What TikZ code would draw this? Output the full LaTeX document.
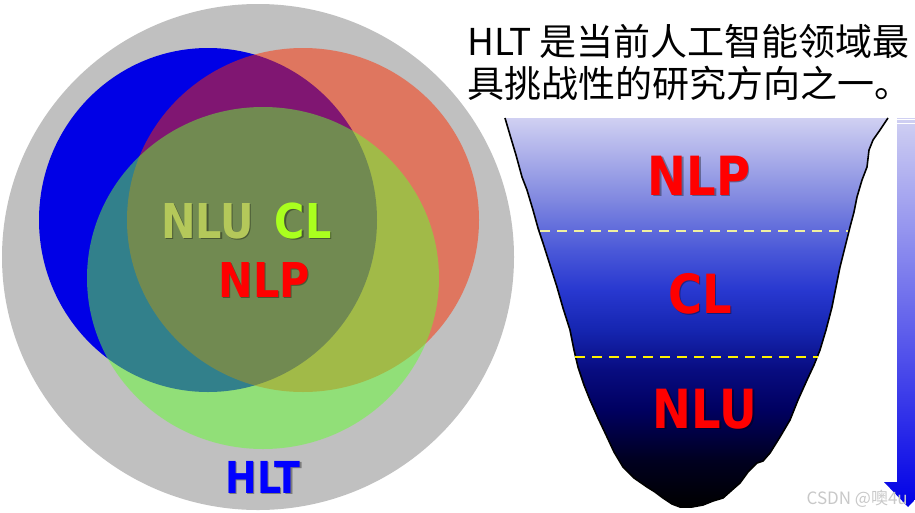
\documentclass[tikz,border=0pt]{standalone}
\usepackage{fontspec}
\newfontfamily\lblfont[FakeStretch=0.86]{DejaVu Sans}
\newfontfamily\cjkfont{Noto Sans CJK SC}
\definecolor{HltGray}{HTML}{C0C0C0}
\definecolor{NluBlue}{HTML}{0000E6}
\definecolor{ClRed}{HTML}{FF2D00}
\definecolor{NlpGreen}{HTML}{64FF32}
\definecolor{NluText}{HTML}{B4C85A}
\definecolor{ClText}{HTML}{AAFF1E}
\definecolor{DashPale}{HTML}{F0F0A0}
\definecolor{WaterGray}{HTML}{C8C8C8}
\usetikzlibrary{positioning, arrows.meta, calc}
\pgfdeclareverticalshading{funnel}{100bp}{%
  color(0bp)=(black); color(25bp)=(black);
  color(31bp)=(rgb,255:red,0;green,0;blue,32);
  color(37.5bp)=(rgb,255:red,0;green,0;blue,96);
  color(42.6bp)=(rgb,255:red,8;green,12;blue,128);
  color(47.7bp)=(rgb,255:red,21;green,37;blue,176);
  color(52.9bp)=(rgb,255:red,40;green,56;blue,208);
  color(58bp)=(rgb,255:red,74;green,88;blue,216);
  color(64.5bp)=(rgb,255:red,128;green,136;blue,224);
  color(75bp)=(rgb,255:red,208;green,208;blue,242);
  color(100bp)=(rgb,255:red,208;green,208;blue,242)}
% word with a soft drop shadow behind it
\newcommand{\shadowed}[1]{%
  \rlap{\begin{pgfscope}\pgfsetfillopacity{0.35}\color{black}%
    \kern1.5pt\raisebox{-1.5pt}{#1}\end{pgfscope}}#1}

\begin{document}
\begin{tikzpicture}[
  x=1pt, y=-1pt,
  venn/.style={font=\lblfont\bfseries\fontsize{48}{50}\selectfont, anchor=base, inner sep=0pt},
  well/.style={font=\lblfont\bfseries\fontsize{54}{56}\selectfont, anchor=base, inner sep=0pt, text=red},
  cjk/.style={font=\cjkfont\fontsize{37}{42}\selectfont, anchor=base west, inner sep=0pt},
  layer/.style={dashed, dash pattern=on 10pt off 7pt, line width=1.5pt},
]
  \useasboundingbox (0,0) rectangle (915,512);
  \clip (0,0) rectangle (915,512);
  % Venn of the fields
  \fill[HltGray] (258,257) ellipse [x radius=256, y radius=253];
  \fill[NluBlue] (208,220) ellipse [x radius=169, y radius=172];
  \fill[ClRed, opacity=0.5] (303,220) ellipse [x radius=176, y radius=172];
  \fill[NlpGreen, opacity=0.5] (263,278) ellipse [x radius=176, y radius=171];
  \node[venn, text=NluText] (vNLU) at (207.5,238) {\shadowed{NLU}};
  \node[venn, text=ClText] (vCL) at (303,238) {\shadowed{CL}};
  \node[venn, text=red] (vNLP) at (264,297) {\shadowed{NLP}};
  \node[venn, text=blue, font=\lblfont\bfseries\fontsize{44}{46}\selectfont] (vHLT) at (263,493) {\shadowed{HLT}};
  % Caption
  \node[cjk] (cap1) at (467,55) {HLT 是当前人工智能领域最};
  \node[cjk] (cap2) at (467,97) {具挑战性的研究方向之一。};
  % Depth funnel
  \shadedraw[shading=funnel, line width=1.6pt, line join=round]
    (505,118) -- (510,135) -- (516,155) -- (522,177) -- (527,190) -- (533,210)
    -- (538,228) -- (543,243) -- (550,265) -- (557,287) -- (563,308) -- (570,330)
    -- (574,350) -- (578,367) -- (584,385) -- (590,400) -- (598,418) -- (607,437)
    -- (614,452) -- (623,467) -- (634,478) -- (647,487) -- (655,492) -- (663,498)
    -- (672,504) -- (680,507) -- (692,507) -- (703,505) -- (713,501) -- (723,498)
    -- (732,490) -- (740,483) -- (748,472) -- (757,463) -- (763,461) -- (770,453)
    -- (780,437) -- (790,420) -- (798,400) -- (807,380) -- (814,365) -- (820,350)
    -- (826,330) -- (832,307) -- (836,287) -- (840,267) -- (845,247) -- (850,227)
    -- (854,212) -- (857,197) -- (862,180) -- (867,167) -- (869,150) -- (873,140)
    -- (880,130) -- (888,118);
  \coordinate (d1l) at (540,231);
  \coordinate (d1r) at (848,231);
  \coordinate (d2l) at (575,357);
  \coordinate (d2r) at (818,357);
  \draw[layer, DashPale] (d1l) -- (d1r);
  \draw[layer, yellow] (d2l) -- (d2r);
  \node[well] (fNLP) at (699,195) {\shadowed{NLP}};
  \node[well] (fCL) at (700,313) {\shadowed{CL}};
  \node[well] (fNLU) at (705,428) {\shadowed{NLU}};
  % Depth arrow
  \shade[top color={rgb,255:red,208;green,208;blue,242}, bottom color=NluBlue]
    (897,118) -- (919,118) -- (919,482) -- (932,482) -- (908,507) -- (884,482)
    -- (897,482) -- cycle;
  \draw[white, line width=1.2pt] (897,119.5) -- (919,119.5);
  \draw[white, line width=1pt] (897,123) -- (919,123);
  % Watermark
  \node[font=\cjkfont\fontsize{17}{19}\selectfont, text=WaterGray, anchor=base east, inner sep=0pt] (mark) at (908,504) {CSDN @噢4u};
\end{tikzpicture}
\end{document}
